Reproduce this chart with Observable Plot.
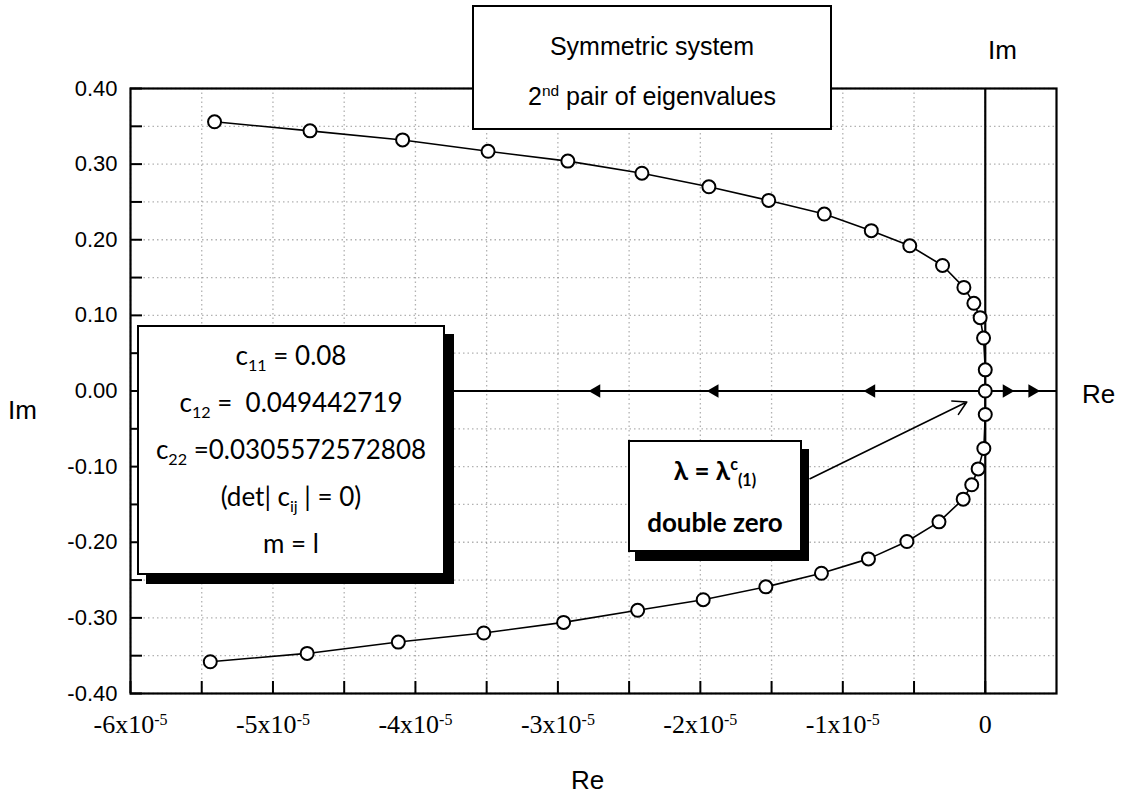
<!DOCTYPE html>
<html><head><meta charset="utf-8">
<script src="https://cdn.jsdelivr.net/npm/d3@7"></script>
<script src="https://cdn.jsdelivr.net/npm/@observablehq/plot@0.6"></script>
<style>
body{margin:0;background:#fff;}
#wrap{position:relative;width:1130px;height:798px;overflow:hidden;background:#fff;}
.box{position:absolute;background:#fff;border:2px solid #000;box-sizing:border-box;text-align:center;color:#000;}
.lbl{position:absolute;font-family:"Liberation Sans",Arial,sans-serif;font-size:26px;color:#000;}
#title{left:472px;top:5px;width:360px;height:125px;font-family:"Liberation Sans",Arial,sans-serif;font-size:25px;line-height:50px;padding-top:14px;}
#params{left:137px;top:325px;width:308px;height:250px;box-shadow:9px 9px 0 0 #000;font-family:Lato,"Open Sans",sans-serif;font-size:26px;line-height:47px;padding-top:5px;}
#dz{left:628px;top:440px;width:174px;height:112px;box-shadow:7px 9px 0 0 #000;font-family:Lato,sans-serif;font-size:26px;line-height:52px;padding-top:2px;font-weight:bold;}
sub,sup{font-size:62%;line-height:0;}
</style></head><body><div id="wrap"></div>
<script>
// Upper branch (Re in absolute units, Im) from far left to the double zero
const reUpper = [-5.41e-5,-4.74e-5,-4.09e-5,-3.49e-5,-2.93e-5,-2.41e-5,-1.94e-5,-1.52e-5,-1.13e-5,-0.80e-5,-0.53e-5,-0.30e-5,-0.15e-5,-0.08e-5,-0.036e-5,-0.012e-5,0,0];
const imUpper = [0.356,0.344,0.332,0.317,0.304,0.288,0.270,0.252,0.234,0.212,0.192,0.166,0.137,0.116,0.097,0.070,0.028,0.000];
// Lower branch from the double zero to far left
const reLower = [0,-0.01e-5,-0.05e-5,-0.095e-5,-0.155e-5,-0.325e-5,-0.55e-5,-0.82e-5,-1.15e-5,-1.54e-5,-1.98e-5,-2.44e-5,-2.96e-5,-3.52e-5,-4.12e-5,-4.76e-5,-5.44e-5];
const imLower = [-0.031,-0.076,-0.103,-0.124,-0.143,-0.173,-0.199,-0.222,-0.241,-0.259,-0.276,-0.290,-0.306,-0.320,-0.332,-0.347,-0.358];

const xMajor = [-6e-5,-5e-5,-4e-5,-3e-5,-2e-5,-1e-5,0];
const xMajorLabels = ["-6x10^-5","-5x10^-5","-4x10^-5","-3x10^-5","-2x10^-5","-1x10^-5","0"];
const xMinor = [-6e-5,-5.5e-5,-5e-5,-4.5e-5,-4e-5,-3.5e-5,-3e-5,-2.5e-5,-2e-5,-1.5e-5,-1e-5,-0.5e-5,0];
const yMajor = [0.4,0.3,0.2,0.1,0,-0.1,-0.2,-0.3,-0.4];
const yMinor = [0.4,0.35,0.3,0.25,0.2,0.15,0.1,0.05,0,-0.05,-0.1,-0.15,-0.2,-0.25,-0.3,-0.35,-0.4];
// direction arrows on the real axis
const arrowsLeft = [-2.73e-5,-1.90e-5,-0.80e-5];
const arrowsRight = [0.15e-5,0.33e-5];
// pointer from the "double zero" box to the origin
const pointer = [{x1:-1.23e-5,y1:-0.116,x2:-0.13e-5,y2:-0.0145}];

const path = [];
reUpper.forEach((r,i)=>path.push({re:r,im:imUpper[i]}));
reLower.forEach((r,i)=>path.push({re:r,im:imLower[i]}));

const chart = Plot.plot({
  width:1130, height:798,
  marginLeft:130, marginRight:74, marginTop:88, marginBottom:105,
  x:{domain:[-6e-5,0.5e-5]},
  y:{domain:[-0.4,0.4]},
  style:{fontFamily:"Liberation Sans, Arial, sans-serif", fontSize:"22px", color:"#000", background:"#fff"},
  marks:[
    Plot.gridX(xMinor,{stroke:"#666", strokeDasharray:"1.5,3", strokeOpacity:0.5, strokeWidth:1.3}),
    Plot.gridY(yMinor,{stroke:"#666", strokeDasharray:"1.5,3", strokeOpacity:0.5, strokeWidth:1.3}),
    Plot.axisY(yMinor,{tickSize:-12, tickFormat:()=>"", label:null, strokeWidth:2}),
    Plot.axisY(yMajor,{tickSize:0, tickPadding:13, tickFormat:d=>d.toFixed(2), label:null, fontSize:22}),
    Plot.axisX(xMinor,{tickSize:-12, tickFormat:()=>"", label:null, strokeWidth:2}),
    Plot.axisX(xMajor,{tickSize:0, tickPadding:21, tickFormat:d=>xMajorLabels[xMajor.indexOf(d)], label:null, fontSize:26, fontFamily:"Liberation Serif, serif"}),
    Plot.frame({stroke:"#000", strokeWidth:2.2}),
    Plot.ruleY([0],{stroke:"#000", strokeWidth:2.2}),
    Plot.ruleX([0],{stroke:"#000", strokeWidth:2.2}),
    Plot.dot(arrowsLeft,{x:d=>d, y:()=>0, symbol:"triangle", rotate:-90, r:5, fill:"#000", stroke:"none"}),
    Plot.dot(arrowsRight,{x:d=>d, y:()=>0, symbol:"triangle", rotate:90, r:5, fill:"#000", stroke:"none"}),
    Plot.line(path,{x:"re", y:"im", stroke:"#000", strokeWidth:1.6}),
    Plot.dot(path,{x:"re", y:"im", r:6.5, fill:"#fff", stroke:"#000", strokeWidth:2}),
    Plot.arrow(pointer,{x1:"x1",y1:"y1",x2:"x2",y2:"y2", stroke:"#000", strokeWidth:1.6, headLength:14})
  ]
});
// render exponent labels with a raised superscript
d3.select(chart).selectAll("text").each(function(){
  const t = this.textContent;
  if (t.includes("^")) {
    const [base, exp] = t.split("^");
    const sel = d3.select(this);
    sel.text(null);
    sel.append("tspan").text(base);
    sel.append("tspan").attr("dy","-0.5em").attr("font-size","16").text(exp);
  }
});
const wrap = document.getElementById("wrap");
wrap.appendChild(chart);
chart.style.position="absolute"; chart.style.left="0"; chart.style.top="0";

function add(html, cls, id, style){
  const d=document.createElement("div");
  d.className=cls; if(id) d.id=id; if(style) d.setAttribute("style",style);
  d.innerHTML=html; wrap.appendChild(d); return d;
}
add("Symmetric system<br>2<sup>nd</sup> pair of eigenvalues","box","title");
add("c<sub>11</sub> = 0.08<br>c<sub>12</sub> =&nbsp; 0.049442719<br>c<sub>22</sub> =0.0305572572808<br>(det| c<sub>ij</sub> | = 0)<br>m = l","box","params");
add("λ = λ<sup>c</sup><sub>(1)</sub><br>double zero","box","dz");
add("Im","lbl",null,"left:8px;top:395px;");
add("Re","lbl",null,"left:571px;top:765px;");
add("Re","lbl",null,"left:1082px;top:379px;");
add("Im","lbl",null,"left:988px;top:35px;");
</script></body></html>
